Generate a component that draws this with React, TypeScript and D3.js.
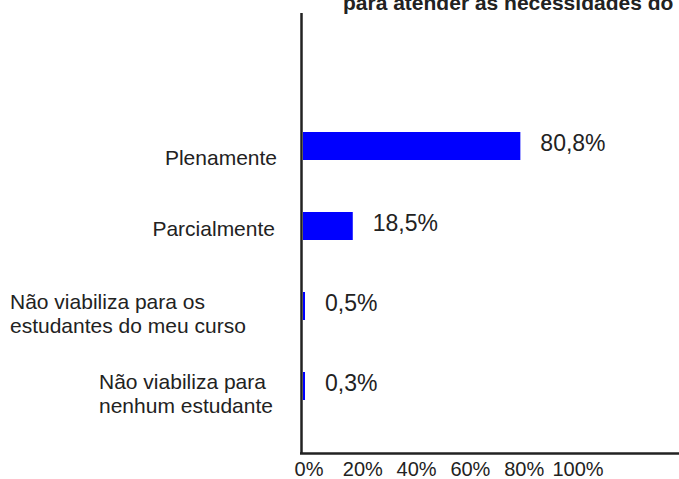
import React from "react";
import * as d3 from "d3";

const categories = [
  ["Plenamente"],
  ["Parcialmente"],
  ["Não viabiliza para os", "estudantes do meu curso"],
  ["Não viabiliza para", "nenhum estudante"],
];
const values = [80.8, 18.5, 0.5, 0.3];
const valueLabels = ["80,8%", "18,5%", "0,5%", "0,3%"];
const ticks = [0, 20, 40, 60, 80, 100];
const tickLabels = ["0%", "20%", "40%", "60%", "80%", "100%"];
const title = "para atender às necessidades do";

// per-row label placement, the original wraps labels unevenly
const labelLayout = [
  { x: 277, anchor: "end", dy: 19 },
  { x: 275, anchor: "end", dy: 10 },
  { x: 10, anchor: "start", dy: 3 },
  { x: 99, anchor: "start", dy: 3 },
];

const W = 679;
const H = 479;
const font = "'Liberation Sans', Arial, sans-serif";
const textColor = "#222";

const App: React.FC = () => {
  const x = d3.scaleLinear().domain([0, 100]).range([303, 572]);
  const y = d3
    .scalePoint<number>()
    .domain(d3.range(values.length))
    .range([146, 386]);
  const barH = 28;

  return (
    <svg
      width={W}
      height={H}
      style={{ position: "absolute", left: 0, top: 0, background: "#fff" }}
      fontFamily={font}
    >
      <text x={343} y={10} fontSize={21} fontWeight="bold" fill={textColor}>
        {title}
      </text>

      {values.map((v, i) => (
        <g key={i}>
          <rect
            x={x(0)}
            y={(y(i) as number) - barH / 2}
            width={Math.max(2, x(v) - x(0))}
            height={barH}
            fill="#0000ff"
          />
          <text
            x={Math.max(x(0) + 2, x(v)) + 20}
            y={(y(i) as number) + 5}
            fontSize={23}
            fill={textColor}
          >
            {valueLabels[i]}
          </text>
          <text
            x={labelLayout[i].x}
            y={(y(i) as number) + labelLayout[i].dy}
            fontSize={21}
            fill={textColor}
            textAnchor={labelLayout[i].anchor as "start" | "end"}
          >
            {categories[i].map((line, j) => (
              <tspan key={j} x={labelLayout[i].x} dy={j === 0 ? 0 : 24}>
                {line}
              </tspan>
            ))}
          </text>
        </g>
      ))}

      <line x1={301.5} x2={301.5} y1={13} y2={454} stroke="#222" strokeWidth={2.5} />
      <line x1={300} x2={W} y1={453.5} y2={453.5} stroke="#222" strokeWidth={2.5} />

      {ticks.map((t, i) => (
        <text
          key={t}
          x={x(t) + 6}
          y={476}
          fontSize={20}
          textAnchor="middle"
          fill={textColor}
        >
          {tickLabels[i]}
        </text>
      ))}
    </svg>
  );
};

export default App;
